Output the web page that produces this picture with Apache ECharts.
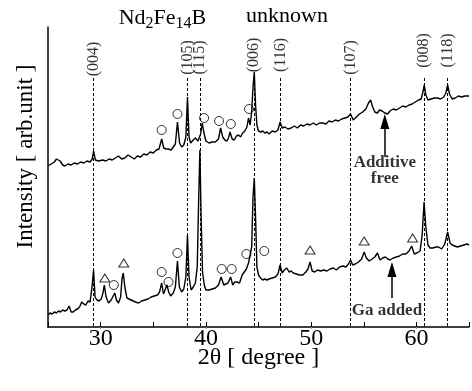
<!DOCTYPE html>
<html>
<head>
<meta charset="utf-8">
<script src="https://cdn.jsdelivr.net/npm/echarts@6/dist/echarts.min.js"></script>
<style>
html,body{margin:0;padding:0;background:#fff;}
#chart{width:472px;height:391px;}
</style>
</head>
<body>
<div id="chart"></div>
<script>
// ---- data (2θ in degree, intensity in arbitrary units) ----
var upperScan = [
[25.0,161],[25.3,163],[25.6,165],[25.8,168],[25.96,170],[26.15,166],[26.4,162],[26.6,161],[26.9,163],[27.2,162],[27.5,164],[27.8,163],[28.1,165],[28.4,164],[28.7,166],[29.0,165],[29.2,168],[29.33,176],[29.5,167],[29.8,166],[30.2,167],[30.5,166],[30.8,168],[31.1,167],[31.4,169],[31.7,171],[32.0,168],[32.3,169],[32.6,172],[32.9,170],[33.2,168],[33.5,171],[33.8,170],[34.1,173],[34.4,172],[34.7,175],[35.0,174],[35.3,177],[35.55,178],[35.8,188],[36.0,179],[36.2,178],[36.4,178],[36.7,177],[36.9,180],[37.1,183],[37.3,205],[37.5,184],[37.7,180],[37.9,182],[38.1,190],[38.25,230],[38.4,190],[38.55,184],[38.8,187],[39.0,189],[39.25,186],[39.5,193],[39.65,204],[39.8,195],[40.0,186],[40.3,184],[40.6,185],[40.9,185],[41.2,188],[41.4,199],[41.6,190],[41.8,187],[42.0,186],[42.15,189],[42.3,195],[42.5,188],[42.7,187],[42.9,191],[43.1,192],[43.3,190],[43.5,194],[43.7,196],[43.9,200],[44.05,209],[44.2,202],[44.35,215],[44.48,240],[44.6,255],[44.72,222],[44.85,202],[45.0,196],[45.2,195],[45.4,196],[45.6,194],[45.8,195],[46.0,193],[46.3,196],[46.6,195],[46.85,197],[47.05,205],[47.25,199],[47.5,200],[47.8,198],[48.1,199],[48.4,201],[48.7,199],[49.0,202],[49.3,201],[49.6,203],[49.9,202],[50.2,204],[50.5,202],[50.8,204],[51.1,204],[51.4,203],[51.7,206],[52.0,205],[52.3,207],[52.6,206],[52.9,208],[53.2,209],[53.5,210],[53.75,213],[54.0,207],[54.3,210],[54.6,213],[54.9,215],[55.2,218],[55.45,224],[55.65,227],[55.85,220],[56.05,215],[56.3,214],[56.5,217],[56.75,216],[57.0,214],[57.25,213],[57.5,216],[57.8,218],[58.1,217],[58.4,219],[58.7,221],[59.0,220],[59.3,222],[59.6,223],[59.9,225],[60.2,227],[60.45,228],[60.6,234],[60.75,242],[60.9,232],[61.1,227],[61.4,228],[61.7,229],[62.0,229],[62.3,228],[62.6,230],[62.8,234],[62.97,242],[63.15,233],[63.4,228],[63.7,229],[64.0,231],[64.3,230],[64.6,231],[65.0,231]
];
var lowerScan = [
[25.0,12],[25.2,14],[25.4,13],[25.6,15],[25.8,14],[26.0,16],[26.2,15],[26.4,17],[26.6,16],[26.8,17],[27.0,21],[27.2,15],[27.4,15],[27.6,17],[27.8,18],[28.0,20],[28.2,25],[28.4,23],[28.6,22],[28.8,26],[29.0,25],[29.18,40],[29.33,57],[29.47,30],[29.65,27],[29.85,26],[30.05,28],[30.2,33],[30.35,42],[30.52,30],[30.75,24],[31.0,27],[31.2,31],[31.35,34],[31.5,27],[31.7,24],[31.9,30],[32.03,48],[32.15,54],[32.3,40],[32.5,29],[32.7,28],[32.9,27],[33.1,26],[33.3,25],[33.6,24],[33.9,26],[34.2,27],[34.5,28],[34.8,30],[35.1,31],[35.4,32],[35.6,35],[35.8,44],[35.97,33],[36.12,32],[36.3,42],[36.47,35],[36.65,31],[36.9,34],[37.1,40],[37.3,66],[37.48,40],[37.7,35],[37.9,38],[38.1,50],[38.25,92],[38.4,50],[38.6,37],[38.8,40],[39.0,44],[39.18,60],[39.3,120],[39.43,177],[39.55,110],[39.68,55],[39.85,42],[40.0,37],[40.3,37],[40.6,38],[40.9,39],[41.2,42],[41.45,50],[41.7,42],[41.9,43],[42.1,44],[42.35,50],[42.55,42],[42.75,45],[42.95,45],[43.2,44],[43.45,52],[43.65,55],[43.85,58],[44.05,64],[44.2,62],[44.35,80],[44.48,130],[44.6,149],[44.72,110],[44.85,60],[45.0,52],[45.2,49],[45.4,47],[45.6,48],[45.8,47],[46.0,48],[46.3,49],[46.6,50],[46.85,53],[47.05,62],[47.25,54],[47.45,57],[47.7,59],[47.9,55],[48.1,56],[48.3,54],[48.6,53],[48.9,52],[49.2,52],[49.5,55],[49.7,58],[49.9,65],[50.1,56],[50.35,55],[50.6,57],[50.9,56],[51.2,57],[51.5,56],[51.8,58],[52.1,59],[52.4,57],[52.7,60],[53.0,61],[53.3,60],[53.55,63],[53.75,67],[53.95,62],[54.2,63],[54.5,65],[54.8,68],[55.04,75],[55.25,69],[55.5,66],[55.8,68],[56.05,70],[56.3,74],[56.55,67],[56.8,69],[57.06,70],[57.3,68],[57.5,67],[57.8,69],[58.1,70],[58.4,71],[58.7,73],[59.0,73],[59.3,76],[59.55,81],[59.8,73],[60.05,74],[60.35,76],[60.55,92],[60.73,125],[60.9,100],[61.1,82],[61.3,79],[61.57,79],[61.85,80],[62.1,80],[62.4,78],[62.7,83],[62.97,95],[63.2,84],[63.4,82],[63.65,81],[63.9,80],[64.2,81],[64.5,82],[64.8,83],[65.0,82]
];
// Nd2Fe14B reflections
var hklTheta = [29.33, 38.25, 39.43, 44.6, 47.1, 53.75, 60.75, 62.97];
var hklNames = ['(004)','(105)','(115)','(006)','(116)','(107)','(008)','(118)'];
// phase markers: ○ and △
var circleMarks = [[35.8,197],[37.3,213],[39.83,209],[41.25,206],[42.37,203],[44.1,218],
                   [31.25,42],[35.8,55],[36.45,45],[37.3,74],[41.5,58],[42.45,58],[43.85,73],[45.55,76]];
var triangleMarks = [[30.4,49],[32.2,64],[49.9,77],[55.04,86],[59.64,89]];
var xTickLabels = [30, 40, 50, 60];
var sampleNames = ['Additive\nfree', 'Ga added'];

// ---- layout ----
var SERIF = "'Liberation Serif','Times New Roman',serif";
var lineTop = 249;                       // top of dashed reference lines (intensity units)
var hklLabelLevel = [268, 269.5, 269.5, 272, 272, 269.5, 276.5, 276.5];
var arrowUpper = {x: 57.0, from: 170, to: 205.5};
var arrowLower = {x: 57.68, from: 29, to: 57.5};
var sampleLabelPos = [[57.0, 156.5], [57.2, 16]];

var chart = echarts.init(document.getElementById('chart'), null, {renderer: 'canvas'});

var refLines = hklTheta.map(function (t) {
  return [{coord: [t, lineTop]}, {coord: [t, 0]}];
});
var hklData = hklTheta.map(function (t, i) { return [t, hklLabelLevel[i], hklNames[i]]; });
var sampleData = sampleNames.map(function (n, i) { return [sampleLabelPos[i][0], sampleLabelPos[i][1], n]; });

var option = {
  animation: false,
  backgroundColor: '#ffffff',
  grid: {left: 48, right: -5, top: 27, bottom: 64, containLabel: false},
  xAxis: [{
    type: 'value', min: 25, max: 65, interval: 5,
    position: 'bottom',
    axisLine: {show: true, onZero: false, lineStyle: {color: '#000', width: 1.5}},
    axisTick: {show: true, inside: true, length: 5, lineStyle: {color: '#000', width: 1}},
    axisLabel: {
      show: true, margin: 0, color: '#000', fontFamily: SERIF, fontSize: 24,
      formatter: function (v) { return xTickLabels.indexOf(v) >= 0 ? String(v) : ''; }
    },
    splitLine: {show: false},
    name: '2θ [ degree ]', nameLocation: 'middle', nameGap: 19, nameMoveOverlap: false,
    nameTextStyle: {color: '#000', fontFamily: SERIF, fontSize: 24}
  }, {
    type: 'value', min: 25, max: 65, interval: 5, position: 'top',
    axisLine: {show: false},
    axisTick: {show: true, inside: true, length: 2, customValues: xTickLabels, lineStyle: {color: '#999', width: 1}},
    axisLabel: {show: false},
    splitLine: {show: false}
  }],
  yAxis: {
    type: 'value', min: 0, max: 300,
    axisLine: {show: true, onZero: false, lineStyle: {color: '#000', width: 1.5}},
    axisTick: {show: false},
    axisLabel: {show: false},
    splitLine: {show: false}
  },
  graphic: [
    {type: 'text', x: 26, y: 156.5, rotation: Math.PI / 2,
     style: {text: 'Intensity [ arb.unit ]', fontFamily: SERIF, fontSize: 23, fill: '#000', textAlign: 'center', textVerticalAlign: 'middle'}},
    {type: 'text', x: 162.5, y: 18,
     style: {text: 'Nd{s|2}Fe{s|14}B', fontFamily: SERIF, fontSize: 22, fill: '#000', textAlign: 'center', textVerticalAlign: 'middle',
             rich: {s: {fontFamily: SERIF, fontSize: 16, padding: [11, 0, 0, 0], fill: '#000'}}}},
    {type: 'text', x: 287, y: 16.5,
     style: {text: 'unknown', fontFamily: SERIF, fontSize: 22, fill: '#000', textAlign: 'center', textVerticalAlign: 'middle'}}
  ],
  series: [
    {
      type: 'line', name: 'Additive free', data: upperScan, showSymbol: false, symbol: 'none',
      lineStyle: {color: '#000', width: 1.4}, silent: true, z: 3,
      markLine: {
        silent: true, symbol: ['none', 'none'], animation: false,
        label: {show: false},
        lineStyle: {color: '#000', width: 1, type: [3, 2]},
        emphasis: {disabled: true},
        data: refLines
      }
    },
    {
      type: 'line', name: 'Ga added', data: lowerScan, showSymbol: false, symbol: 'none',
      lineStyle: {color: '#000', width: 1.4}, silent: true, z: 3
    },
    {
      type: 'scatter', data: circleMarks, symbol: 'circle', symbolSize: 9, silent: true, z: 4,
      itemStyle: {color: 'rgba(255,255,255,0)', borderColor: '#000', borderWidth: 1}
    },
    {
      type: 'scatter', data: triangleMarks, symbol: 'triangle', symbolSize: [10, 8], silent: true, z: 4,
      itemStyle: {color: 'rgba(255,255,255,0)', borderColor: '#000', borderWidth: 1}
    },
    {
      type: 'scatter', data: hklData, symbolSize: 0, silent: true, z: 5,
      label: {show: true, position: 'inside', rotate: 90, color: '#000', fontFamily: SERIF, fontSize: 16,
              formatter: function (p) { return p.data[2]; }}
    },
    {
      type: 'scatter', data: sampleData, symbolSize: 0, silent: true, z: 5,
      label: {show: true, position: 'inside', color: '#000', fontFamily: SERIF, fontSize: 17, fontWeight: 'bold', lineHeight: 16,
              formatter: function (p) { return p.data[2]; }},
      markLine: {
        silent: true, animation: false, symbol: ['none', 'triangle'], symbolSize: [9, 15],
        label: {show: false}, emphasis: {disabled: true},
        lineStyle: {color: '#000', width: 1.5, type: 'solid'},
        data: [
          [{coord: [arrowUpper.x, arrowUpper.from]}, {coord: [arrowUpper.x, arrowUpper.to]}],
          [{coord: [arrowLower.x, arrowLower.from]}, {coord: [arrowLower.x, arrowLower.to]}]
        ]
      }
    }
  ]
};
chart.setOption(option);
</script>
</body>
</html>
